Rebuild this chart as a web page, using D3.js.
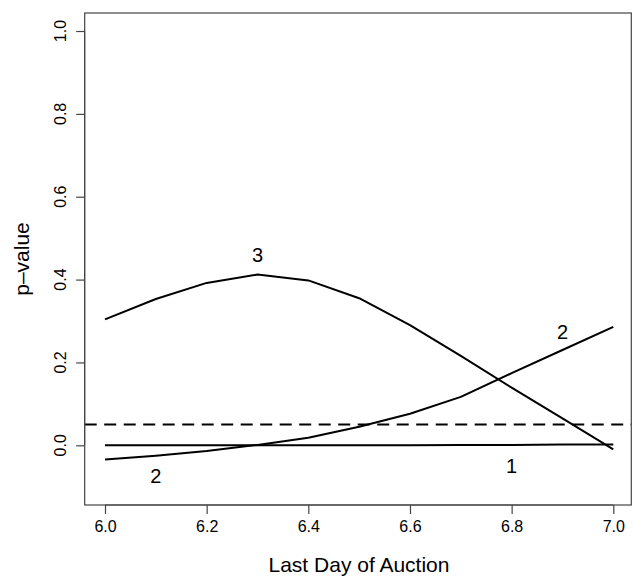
<!DOCTYPE html>
<html>
<head>
<meta charset="utf-8">
<script src="https://cdn.jsdelivr.net/npm/d3@7"></script>
<style>
  body { margin: 0; background: #fff; }
  svg { display: block; font-family: "Liberation Sans", Arial, Helvetica, sans-serif; }
  text.tk { font-size: 16px; font-family: "Liberation Sans", Arial, Helvetica, sans-serif; fill: #000; }
</style>
</head>
<body>
<svg id="chart" width="634" height="577"></svg>
<script>
// ---- data ----
const days = [6.0, 6.1, 6.2, 6.3, 6.4, 6.5, 6.6, 6.7, 6.8, 6.9, 7.0];
const pCurve1 = [0.000, 0.000, 0.000, 0.000, 0.000, 0.000, 0.000, 0.001, 0.001, 0.002, 0.002];
const pCurve2 = [-0.034, -0.025, -0.014, 0.001, 0.018, 0.045, 0.076, 0.117, 0.174, 0.230, 0.286];
const pCurve3 = [0.304, 0.353, 0.392, 0.412, 0.398, 0.355, 0.290, 0.216, 0.139, 0.065, -0.010];
const threshold = 0.05;
const xTicks = [6.0, 6.2, 6.4, 6.6, 6.8, 7.0];
const yTicks = [0.0, 0.2, 0.4, 0.6, 0.8, 1.0];
const curveLabels = [
  { text: "3", x: 6.3, y: 0.459 },
  { text: "2", x: 6.1, y: -0.074 },
  { text: "2", x: 6.9, y: 0.274 },
  { text: "1", x: 6.8, y: -0.051 }
];

// ---- layout ----
const box = { left: 84.7, right: 631.3, top: 13, bottom: 505 };
const x = d3.scaleLinear().domain([6, 7]).range([105, 613.3]);
const y = d3.scaleLinear().domain([0, 1]).range([445.3, 31]);

const svg = d3.select("#chart");

// curves
const line = d3.line().x((d, i) => x(days[i])).y(d => y(d));
[pCurve1, pCurve2, pCurve3].forEach(s => {
  svg.append("path").datum(s)
    .attr("d", line)
    .attr("fill", "none")
    .attr("stroke", "#000")
    .attr("stroke-width", 2)
    .attr("stroke-linejoin", "round");
});

// dashed threshold line
svg.append("line")
  .attr("x1", box.left).attr("x2", box.right)
  .attr("y1", y(threshold)).attr("y2", y(threshold))
  .attr("stroke", "#000").attr("stroke-width", 2)
  .attr("stroke-dasharray", "12,7.5");

// curve labels
svg.selectAll("text.curvelab").data(curveLabels).enter().append("text")
  .attr("class", "curvelab")
  .attr("x", d => x(d.x))
  .attr("y", d => y(d.y) + 7)
  .attr("text-anchor", "middle")
  .style("font-size", "20px")
  .attr("fill", "#000")
  .text(d => d.text);

// box
svg.append("rect")
  .attr("x", box.left).attr("y", box.top)
  .attr("width", box.right - box.left).attr("height", box.bottom - box.top)
  .attr("fill", "none").attr("stroke", "#444").attr("stroke-width", 1.2);

// x axis
const xAxis = svg.append("g").attr("transform", `translate(0,${box.bottom})`)
  .call(d3.axisBottom(x).tickValues(xTicks).tickSize(9).tickPadding(7)
    .tickFormat(d3.format(".1f")));
xAxis.attr("font-size", null).attr("font-family", null);
xAxis.select(".domain").attr("stroke", "#444").attr("d", `M${x(6)},0H${x(7)}`);
xAxis.selectAll(".tick line").attr("stroke", "#444").attr("stroke-width", 1.2);
xAxis.selectAll(".tick text").attr("class", "tk").attr("fill", "#000");

// y axis
const yAxis = svg.append("g").attr("transform", `translate(${box.left},0)`)
  .call(d3.axisLeft(y).tickValues(yTicks).tickSize(8.5).tickFormat(() => ""));
yAxis.select(".domain").attr("stroke", "#444").attr("d", `M0,${y(0)}V${y(1)}`);
yAxis.selectAll(".tick line").attr("stroke", "#444").attr("stroke-width", 1.2);
svg.selectAll("text.ylab").data(yTicks).enter().append("text")
  .attr("class", "tk")
  .attr("transform", d => `translate(66,${y(d)}) rotate(-90)`)
  .attr("text-anchor", "middle")
  .text(d => d3.format(".1f")(d));

// axis titles
svg.append("text")
  .attr("x", (box.left + box.right) / 2 + 1)
  .attr("y", 572)
  .attr("text-anchor", "middle")
  .style("font-size", "21px")
  .attr("fill", "#000")
  .text("Last Day of Auction");

svg.append("text")
  .attr("transform", `translate(29,${(box.top + box.bottom) / 2}) rotate(-90)`)
  .attr("text-anchor", "middle")
  .style("font-size", "21px")
  .attr("fill", "#000")
  .text("p–value");
</script>
</body>
</html>
